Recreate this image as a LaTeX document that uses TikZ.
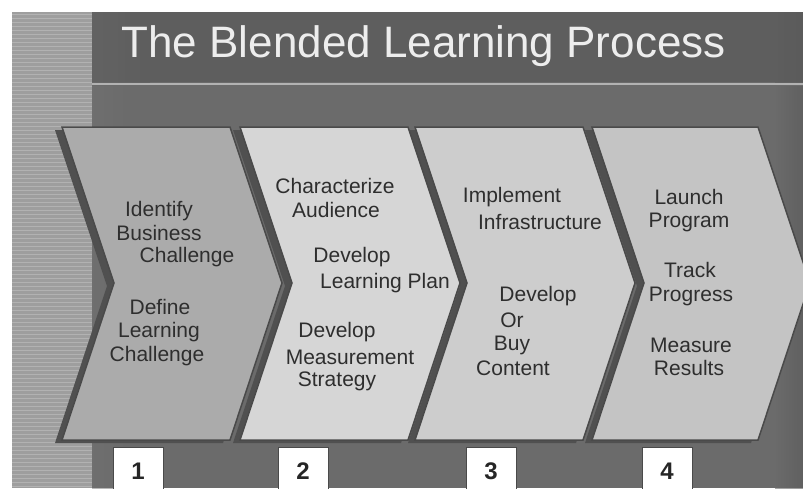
\documentclass[tikz,border=0pt]{standalone}
\usepackage{fontspec}
\setmainfont{Liberation Sans}
\usetikzlibrary{shapes,positioning,calc}
\definecolor{panel}{HTML}{6B6B6B}
\definecolor{titleband}{HTML}{5E5E5E}
\definecolor{strip}{HTML}{9E9E9E}
\definecolor{stripline}{HTML}{B2B2B2}
\definecolor{chevline}{HTML}{4A4A4A}
\definecolor{chevdark}{HTML}{505050}
\definecolor{chevA}{HTML}{ABABAB}
\definecolor{chevB}{HTML}{D6D6D6}
\definecolor{chevC}{HTML}{CDCDCD}
\definecolor{chevD}{HTML}{C4C4C4}
\definecolor{labeltext}{HTML}{2E2E2E}
\definecolor{titletext}{HTML}{EDEDED}

\begin{document}
\begin{tikzpicture}[x=1pt,y=-1pt]
    \tikzstyle{chev} = [draw=chevline, line width=1.5pt, line join=miter]
    \tikzstyle{chevshadow} = [fill=chevdark]
    \tikzstyle{lbl} = [text=labeltext, font=\fontsize{21}{24}\selectfont, inner sep=0pt]
    \tikzstyle{numbox} = [draw=chevline, fill=white, minimum width=50pt, minimum height=48pt, anchor=north, inner sep=0pt, font=\fontsize{24}{24}\selectfont\bfseries, text=black!85]

    \useasboundingbox (0,0) rectangle (803,488);

    % Background panel
    \fill[white] (0,0) rectangle (803,488);
    \fill[panel] (12,12) rectangle (803,488);
    \fill[titleband] (92,12) rectangle (803,82);
    \shade[left color=black!60, right color=titleband, opacity=0.6] (92,12) rectangle (150,82);
    \shade[left color=black!55, right color=panel, opacity=0.5] (92,86) rectangle (130,488);
    \shade[left color=titleband, right color=black!65, opacity=0.6] (775,12) rectangle (803,82);
    \shade[left color=panel, right color=black!65, opacity=0.6] (775,86) rectangle (803,488);
    \draw[stripline, line width=2pt] (92,84) -- (803,84);

    % Left strip
    \fill[strip] (12,12) rectangle (92,488);
    \foreach \y in {14,18,...,486}
        \draw[stripline, line width=1pt] (12,\y) -- (92,\y);

    % Title
    \node[anchor=base west, text=titletext, font=\fontsize{44}{44}\selectfont] (title) at (118,57) {The Blended Learning Process};

    % Chevron shadows
    \fill[chevshadow] (55,130) -- (223,130) -- (275,286) -- (223,443) -- (55,443) -- (107,286) -- cycle;
    \fill[chevshadow] (233,130) -- (401,130) -- (453,286) -- (401,443) -- (233,443) -- (285,286) -- cycle;
    \fill[chevshadow] (408,130) -- (576,130) -- (628,286) -- (576,443) -- (408,443) -- (460,286) -- cycle;
    \fill[chevshadow] (585,130) -- (751,130) -- (803,286) -- (751,443) -- (585,443) -- (637,286) -- cycle;

    % Chevrons
    \draw[chev, fill=chevA] (62,127) -- (230,127) -- (282,283) -- (230,440) -- (62,440) -- (114,283) -- cycle;
    \draw[chev, fill=chevB] (240,127) -- (408,127) -- (460,283) -- (408,440) -- (240,440) -- (292,283) -- cycle;
    \draw[chev, fill=chevC] (415,127) -- (583,127) -- (635,283) -- (583,440) -- (415,440) -- (467,283) -- cycle;
    \draw[chev, fill=chevD] (592,127) -- (758,127) -- (810,283) -- (758,440) -- (592,440) -- (644,283) -- cycle;

    % Step 1
    \node[lbl] (identify) at (159,211) {Identify};
    \node[lbl] (business) at (159,233) {Business};
    \node[lbl] (bizchal) at (187,257) {Challenge};
    \node[lbl] (define) at (160,307) {Define};
    \node[lbl] (learning) at (159,332) {Learning};
    \node[lbl] (learnchal) at (157,356) {Challenge};

    % Step 2
    \node[lbl] (characterize) at (335,186) {Characterize};
    \node[lbl] (audience) at (336,210) {Audience};
    \node[lbl] (develop) at (352,257) {Develop};
    \node[lbl] (learnplan) at (385,283) {Learning Plan};
    \node[lbl] (developm) at (337,332) {Develop};
    \node[lbl] (measurement) at (350,357) {Measurement};
    \node[lbl] (strategy) at (337,381) {Strategy};

    % Step 3
    \node[lbl] (implement) at (512,197) {Implement};
    \node[lbl] (infra) at (540,222) {Infrastructure};
    \node[lbl] (developc) at (538,296) {Develop};
    \node[lbl] (or) at (512,320) {Or};
    \node[lbl] (buy) at (512,345) {Buy};
    \node[lbl] (content) at (513,368) {Content};

    % Step 4
    \node[lbl] (launch) at (689,197) {Launch};
    \node[lbl] (program) at (689,222) {Program};
    \node[lbl] (track) at (690,270) {Track};
    \node[lbl] (progress) at (691,296) {Progress};
    \node[lbl] (measure) at (691,345) {Measure};
    \node[lbl] (results) at (689,368) {Results};

    % Step numbers
    \node[numbox] (num1) at (138,447) {1};
    \node[numbox] (num2) at (303,447) {2};
    \node[numbox] (num3) at (491,447) {3};
    \node[numbox] (num4) at (667,447) {4};
\end{tikzpicture}
\end{document}
